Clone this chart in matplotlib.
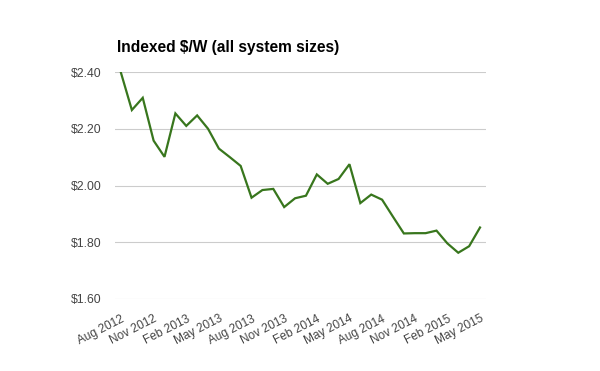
import matplotlib
matplotlib.use("Agg")
import matplotlib.pyplot as plt

months = ["Aug 2012", "Sep 2012", "Oct 2012", "Nov 2012", "Dec 2012", "Jan 2013",
          "Feb 2013", "Mar 2013", "Apr 2013", "May 2013", "Jun 2013", "Jul 2013",
          "Aug 2013", "Sep 2013", "Oct 2013", "Nov 2013", "Dec 2013", "Jan 2014",
          "Feb 2014", "Mar 2014", "Apr 2014", "May 2014", "Jun 2014", "Jul 2014",
          "Aug 2014", "Sep 2014", "Oct 2014", "Nov 2014", "Dec 2014", "Jan 2015",
          "Feb 2015", "Mar 2015", "Apr 2015", "May 2015"]
values = [2.397, 2.266, 2.309, 2.158, 2.101, 2.254, 2.210, 2.247, 2.200, 2.130,
          2.100, 2.069, 1.957, 1.984, 1.988, 1.924, 1.955, 1.964, 2.039, 2.006,
          2.023, 2.075, 1.938, 1.968, 1.950, 1.890, 1.831, 1.832, 1.832, 1.841,
          1.796, 1.763, 1.786, 1.852]
yticks = [1.60, 1.80, 2.00, 2.20, 2.40]
ytick_labels = ["$1.60", "$1.80", "$2.00", "$2.20", "$2.40"]
title = "Indexed $/W (all system sizes)"

plt.rcParams['font.family'] = ['Liberation Sans', 'DejaVu Sans']

fig = plt.figure(figsize=(6, 3.71), dpi=100)
ax = fig.add_axes([115/600, 1 - 299/371, (486-115)/600, (299-72)/371])

x = list(range(len(values)))
ax.plot(x, values, color="#38761d", linewidth=1.6, solid_joinstyle="miter")

ax.set_ylim(1.60, 2.40)
ax.set_xlim(-0.55, len(values) - 1 + 0.55)
ax.set_yticks(yticks)
ax.set_yticklabels(ytick_labels, color="#444444", fontsize=8.8)
ax.yaxis.grid(True, color="#cccccc", linewidth=0.8)
ax.set_axisbelow(True)

tick_idx = list(range(0, len(months), 3))
ax.set_xticks(tick_idx)
ax.set_xticklabels([months[i] for i in tick_idx], rotation=27, ha="right",
                   rotation_mode="anchor", color="#444444", fontsize=8.6)

ax.tick_params(axis="both", length=0)
ax.tick_params(axis="y", pad=9.4)
ax.tick_params(axis="x", pad=10)
for s in ax.spines.values():
    s.set_visible(False)

fig.text(117/600, 1 - 52/371, title, fontsize=11.2, fontweight="bold",
         color="#000000", ha="left", va="baseline")

fig.savefig("out.png", dpi=100)
